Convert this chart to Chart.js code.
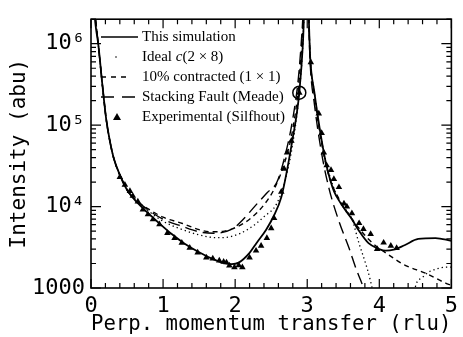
<!DOCTYPE html>
<html>
<head>
<meta charset="utf-8">
<title>Intensity vs perp. momentum transfer</title>
<script src="https://cdn.jsdelivr.net/npm/chart.js@4.4.0/dist/chart.umd.min.js"></script>
<style>
    html, body { margin: 0; padding: 0; background: #fff; }
    #wrap { width: 463px; height: 337px; }
</style>
</head>
<body>
<div id="wrap"><canvas id="chart" width="463" height="337"></canvas></div>
<script>
// Values
const simX = [0.03, 0.06, 0.10, 0.16, 0.21, 0.26, 0.32, 0.40, 0.51, 0.65, 0.80, 0.95, 1.12, 1.3, 1.5, 1.7, 1.85, 1.95, 2.05, 2.2, 2.3, 2.43, 2.53, 2.64, 2.72, 2.8, 2.85, 2.89, 2.94, 2.99, 3.04, 3.1, 3.14, 3.2, 3.26, 3.32, 3.37, 3.45, 3.55, 3.62, 3.72, 3.85, 3.99, 4.09, 4.2, 4.35, 4.54, 4.78, 5.0];
const simY = [4e6, 1.8e6, 1e6, 3e5, 1.2e5, 65000, 38000, 24500, 15500, 11000, 8200, 6200, 4600, 3500, 2750, 2250, 2020, 1960, 2050, 2700, 3600, 5200, 7500, 13000, 28000, 70000, 130000, 250000, 1e6, 1.2e7, 7e5, 2.5e5, 1.4e5, 65000, 34000, 21000, 15500, 11500, 8500, 7000, 5000, 3550, 3030, 2870, 2950, 3350, 4000, 4100, 3800];

const idealX = [0.03, 0.10, 0.16, 0.21, 0.26, 0.32, 0.40, 0.51, 0.65, 0.8, 1.0, 1.27, 1.5, 1.74, 1.95, 2.2, 2.4, 2.58, 2.7, 2.8, 2.89, 2.94, 2.99, 3.04, 3.1, 3.2, 3.3, 3.45, 3.62, 3.72, 3.81, 3.87, 3.92, 3.96, 4.2, 4.45, 4.5, 4.6, 4.68, 4.8, 4.92, 5.0];
const idealY = [4e6, 1e6, 3e5, 1.2e5, 65000, 38000, 24500, 15500, 11500, 8800, 6600, 5200, 4500, 4150, 4300, 5400, 7500, 11000, 22000, 60000, 250000, 1e6, 1.2e7, 7e5, 2.5e5, 65000, 26000, 11500, 7000, 3500, 2000, 1300, 800, 400, null, 500, 1030, 1350, 1560, 1720, 1800, 1800];

const contractedX = [0.03, 0.10, 0.16, 0.21, 0.26, 0.32, 0.40, 0.51, 0.65, 0.8, 1.0, 1.27, 1.5, 1.65, 1.85, 2.0, 2.2, 2.4, 2.55, 2.7, 2.8, 2.88, 2.93, 2.99, 3.04, 3.1, 3.2, 3.3, 3.45, 3.6, 3.75, 3.9, 4.09, 4.36, 4.64, 4.92, 5.0];
const contractedY = [4e6, 1e6, 3e5, 1.2e5, 65000, 38000, 24500, 15500, 11500, 9300, 7400, 6200, 5200, 4900, 5000, 5500, 7000, 10500, 17000, 38000, 90000, 300000, 1.2e6, 1.2e7, 7e5, 2.3e5, 60000, 24000, 12000, 7500, 5000, 3600, 2700, 1900, 1520, 1150, 1080];

const faultX = [0.03, 0.10, 0.16, 0.21, 0.26, 0.32, 0.40, 0.51, 0.65, 0.8, 1.0, 1.27, 1.5, 1.7, 1.96, 2.1, 2.29, 2.45, 2.58, 2.7, 2.8, 2.88, 2.93, 2.99, 3.04, 3.1, 3.2, 3.3, 3.44, 3.58, 3.68, 3.74, 3.79, 3.85];
const faultY = [4e6, 1e6, 3e5, 1.2e5, 65000, 38000, 24500, 15500, 11500, 9000, 7000, 5700, 4900, 4700, 5300, 6800, 10500, 15000, 20000, 45000, 120000, 400000, 1.5e6, 1.2e7, 6e5, 1.8e5, 45000, 17000, 6600, 3100, 1700, 1250, 950, 600];

const expX = [0.40, 0.47, 0.54, 0.58, 0.65, 0.72, 0.79, 0.86, 0.95, 1.06, 1.16, 1.26, 1.37, 1.48, 1.60, 1.69, 1.78, 1.84, 1.88, 1.92, 1.99, 2.05, 2.10, 2.20, 2.29, 2.36, 2.44, 2.50, 2.54, 2.64, 2.68, 2.72, 2.78, 2.89, 3.05, 3.16, 3.20, 3.23, 3.27, 3.33, 3.37, 3.44, 3.51, 3.55, 3.62, 3.72, 3.78, 3.88, 3.97, 4.06, 4.16, 4.24];
const expY = [23000, 18500, 15500, 13500, 11500, 9200, 8000, 6950, 6070, 4720, 4110, 3580, 3120, 2720, 2360, 2300, 2170, 2100, 2060, 1890, 1790, 1900, 1790, 2360, 2870, 3300, 4110, 5400, 7200, 15200, 29000, 46000, 64000, 250000, 590000, 139000, 80000, 46000, 32000, 28000, 21700, 17300, 10900, 10000, 8250, 6250, 5300, 4600, 3000, 3600, 3300, 3100];

const circledX = [2.89];
const circledY = [250000];

const xTicks = [0, 1, 2, 3, 4, 5];
const yTicks = [1000, 1e4, 1e5, 1e6];
const yTickLabels = ['1000', '10⁴', '10⁵', '10⁶'];
const legendLabels = ['This simulation', 'Ideal c(2 × 8)', '10% contracted (1 × 1)', 'Stacking Fault (Meade)', 'Experimental (Silfhout)'];

(function() {
    'use strict';

    const MONO = '"DejaVu Sans Mono", monospace';
    const SERIF = '"Liberation Serif", "Times New Roman", serif';

    const toPoints = (xs, ys) => xs.map((x, i) => ({ x: x, y: ys[i] }));

    // inward ticks on all four sides plus the box
    const framePlugin = {
        id: 'frame',
        afterDraw(chart) {
            const { ctx, chartArea: a, scales: { x, y } } = chart;
            ctx.save();
            ctx.strokeStyle = '#000';
            ctx.lineWidth = 1.6;
            ctx.strokeRect(a.left, a.top, a.right - a.left, a.bottom - a.top);

            ctx.lineWidth = 1.2;
            ctx.beginPath();
            for (let i = 0; i <= 25; i++) {
                const px = x.getPixelForValue(i * 0.2);
                const len = i % 5 === 0 ? 9 : 5;
                ctx.moveTo(px, a.bottom);
                ctx.lineTo(px, a.bottom - len);
                ctx.moveTo(px, a.top);
                ctx.lineTo(px, a.top + len);
            }
            for (let d = 3; d <= 6; d++) {
                for (let m = 1; m <= 9; m++) {
                    const v = m * Math.pow(10, d);
                    if (v < y.min || v > y.max) continue;
                    const py = y.getPixelForValue(v);
                    const len = m === 1 ? 10 : 5;
                    ctx.moveTo(a.left, py);
                    ctx.lineTo(a.left + len, py);
                    ctx.moveTo(a.right, py);
                    ctx.lineTo(a.right - len, py);
                }
            }
            ctx.stroke();
            ctx.restore();
        }
    };

    // legend drawn inside the plot, top left
    const legendPlugin = {
        id: 'insideLegend',
        afterDraw(chart) {
            const { ctx } = chart;
            const x0 = 101, x1 = 138, tx = 142;
            const rows = [37, 57, 77, 97, 117];
            ctx.save();
            ctx.strokeStyle = '#000';
            ctx.fillStyle = '#000';
            ctx.lineWidth = 1.3;

            // solid
            ctx.beginPath();
            ctx.moveTo(x0, rows[0]);
            ctx.lineTo(x1, rows[0]);
            ctx.stroke();
            // dotted
            ctx.beginPath();
            ctx.arc(116, rows[1], 0.8, 0, Math.PI * 2);
            ctx.fill();
            // short dash
            ctx.setLineDash([5, 5]);
            ctx.beginPath();
            ctx.moveTo(x0, rows[2]);
            ctx.lineTo(131, rows[2]);
            ctx.stroke();
            // long dash
            ctx.setLineDash([13, 8]);
            ctx.beginPath();
            ctx.moveTo(x0, rows[3]);
            ctx.lineTo(x1, rows[3]);
            ctx.stroke();
            ctx.setLineDash([]);
            // triangle
            ctx.beginPath();
            ctx.moveTo(117, rows[4] - 4);
            ctx.lineTo(121, rows[4] + 3);
            ctx.lineTo(113, rows[4] + 3);
            ctx.closePath();
            ctx.fill();

            ctx.textBaseline = 'middle';
            ctx.textAlign = 'left';
            legendLabels.forEach((label, i) => {
                if (i === 1) {
                    // italic c in c(2 × 8)
                    const head = 'Ideal ';
                    ctx.font = '15px ' + SERIF;
                    ctx.fillText(head, tx, rows[i]);
                    let cx = tx + ctx.measureText(head).width;
                    ctx.font = 'italic 15px ' + SERIF;
                    ctx.fillText('c', cx, rows[i]);
                    cx += ctx.measureText('c').width;
                    ctx.font = '15px ' + SERIF;
                    ctx.fillText(label.slice(7), cx, rows[i]);
                } else {
                    ctx.font = '15px ' + SERIF;
                    ctx.fillText(label, tx, rows[i]);
                }
            });
            ctx.restore();
        }
    };

    const lineSet = (label, xs, ys, dash, width) => ({
        label: label,
        data: toPoints(xs, ys),
        borderColor: '#000',
        borderWidth: width,
        borderDash: dash,
        pointRadius: 0,
        fill: false,
        spanGaps: false,
        cubicInterpolationMode: 'monotone'
    });

    const Plot = {
        chart: null,

        init: function() {
            Chart.defaults.font.family = MONO;
            Chart.defaults.color = '#000';
            this.chart = new Chart(document.getElementById('chart'), this.buildConfig());
        },

        buildConfig: function() {
            return {
                type: 'line',
                data: {
                    datasets: [
                        lineSet(legendLabels[0], simX, simY, [], 1.8),
                        lineSet(legendLabels[1], idealX, idealY, [1.3, 3], 1.3),
                        lineSet(legendLabels[2], contractedX, contractedY, [5, 4], 1.4),
                        lineSet(legendLabels[3], faultX, faultY, [12, 6], 1.4),
                        {
                            label: legendLabels[4],
                            data: toPoints(expX, expY),
                            showLine: false,
                            pointStyle: 'triangle',
                            pointRadius: 3.8,
                            backgroundColor: '#000',
                            borderColor: '#000',
                            borderWidth: 0
                        },
                        {
                            label: 'circled',
                            data: toPoints(circledX, circledY),
                            showLine: false,
                            pointStyle: 'circle',
                            pointRadius: 6.5,
                            backgroundColor: 'rgba(0,0,0,0)',
                            borderColor: '#000',
                            borderWidth: 1.5
                        }
                    ]
                },
                options: {
                    responsive: false,
                    animation: false,
                    devicePixelRatio: 1,
                    layout: { padding: { top: 14, right: 10, left: 0, bottom: 0 } },
                    plugins: {
                        legend: { display: false },
                        tooltip: { enabled: false }
                    },
                    scales: {
                        x: {
                            type: 'linear',
                            min: 0,
                            max: 5,
                            grid: { display: false, drawTicks: false },
                            border: { display: false },
                            afterBuildTicks: (scale) => {
                                scale.ticks = xTicks.map(v => ({ value: v }));
                            },
                            afterFit: (scale) => { scale.height = 49; },
                            ticks: {
                                padding: 5,
                                maxRotation: 0,
                                font: { size: 22 },
                                callback: (v) => String(v)
                            },
                            title: {
                                display: true,
                                text: 'Perp. momentum transfer (rlu)',
                                font: { size: 21 },
                                padding: { top: 0, bottom: 0 }
                            }
                        },
                        y: {
                            type: 'logarithmic',
                            min: 1000,
                            max: 2e6,
                            grid: { display: false, drawTicks: false },
                            border: { display: false },
                            afterBuildTicks: (scale) => {
                                scale.ticks = yTicks.map(v => ({ value: v }));
                            },
                            afterFit: (scale) => { scale.width = 91; },
                            ticks: {
                                padding: 6,
                                font: { size: 22 },
                                callback: (v) => {
                                    const i = yTicks.indexOf(v);
                                    return i >= 0 ? yTickLabels[i] : '';
                                }
                            },
                            title: {
                                display: true,
                                text: 'Intensity (abu)',
                                font: { size: 21 },
                                padding: { top: 7, bottom: 0 }
                            }
                        }
                    }
                },
                plugins: [framePlugin, legendPlugin]
            };
        }
    };

    Plot.init();
})();
</script>
</body>
</html>
